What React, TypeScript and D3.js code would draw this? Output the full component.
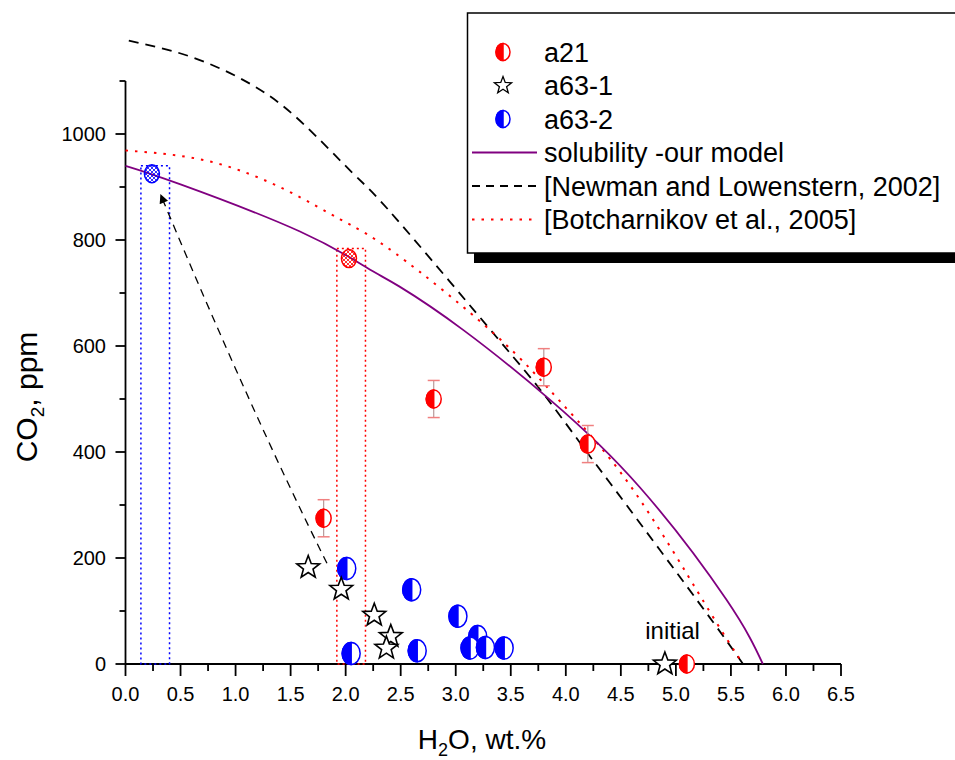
import { useEffect, useRef } from 'react';
import * as d3 from 'd3';

// a21 inclusions (H2O wt.%, CO2 ppm, error)
const a21H2O = [1.8, 2.8, 3.8, 4.2, 5.1];
const a21CO2 = [275, 500, 560, 415, 0];
const a21Err = [35, 35, 35, 35, 0];

// a63-1 inclusions (stars)
const a631H2O = [1.66, 1.96, 2.26, 2.41, 2.37, 4.9];
const a631CO2 = [182, 141, 92, 52, 30, 0];

// a63-2 inclusions (blue half circles)
const a632H2O = [2.01, 2.05, 2.6, 3.02, 3.2, 3.13, 3.27, 3.44, 2.65];
const a632CO2 = [180, 20, 140, 90, 52, 30, 31, 30, 25];

// model points with their H2O range boxes
const calcH2O = [0.24, 2.03];
const calcCO2 = [925, 765];
const calcLo = [0.14, 1.92];
const calcHi = [0.4, 2.18];
const calcTop = [940, 784];
const calcColor = ['#0000ff', '#ff0000'];

// curves
const solH2O = [0, 0.5, 1.585, 2.19, 2.49, 3.07, 3.86, 4.67, 5.46, 5.79];
const solCO2 = [940, 905, 816, 748, 712, 630, 498, 334, 121, 0];
const newH2O = [0.03, 0.59, 1.13, 1.585, 2.07, 2.46, 3.37, 3.83, 4.19, 4.4, 5.19, 5.61];
const newCO2 = [1176, 1146, 1095, 1025, 925, 840, 617, 501, 400, 342, 121, 0];
const botH2O = [0.0, 0.77, 1.46, 1.95, 2.45, 3.36, 3.95, 4.58, 5.26, 5.61];
const botCO2 = [969, 948, 894, 839, 775, 621, 495, 338, 115, 0];

// degassing arrow (tail, bend, tip)
const arrowH2O = [1.83, 1.14, 0.32];
const arrowCO2 = [190, 477, 885];

const legendLabels = ['a21', 'a63-1', 'a63-2', 'solubility -our model', '[Newman and Lowenstern, 2002]', '[Botcharnikov et al., 2005]'];

const FONT = 'Arial, "Liberation Sans", sans-serif';

export default function App() {
    const svgRef = useRef<SVGSVGElement | null>(null);

    useEffect(() => {
        if (!svgRef.current) return;
        const svg = d3.select(svgRef.current);
        svg.selectAll('*').remove();

        const x = d3.scaleLinear().domain([0, 6.5]).range([125.5, 841]);
        const y = d3.scaleLinear().domain([0, 1000]).range([664, 134]);

        // hatch patterns for model points
        const defs = svg.append('defs');
        calcColor.forEach((c, i) => {
            const p = defs.append('pattern')
                .attr('id', `hatch${i}`)
                .attr('patternUnits', 'userSpaceOnUse')
                .attr('width', 4).attr('height', 4);
            p.append('path').attr('d', 'M0,4L4,0M-1,1L1,-1M3,5L5,3').attr('stroke', c).attr('stroke-width', 0.8);
            p.append('path').attr('d', 'M0,0L4,4M-1,3L1,5M3,-1L5,1').attr('stroke', c).attr('stroke-width', 0.8);
        });
        defs.append('marker')
            .attr('id', 'arrowHead')
            .attr('viewBox', '0 0 10 10')
            .attr('refX', 9).attr('refY', 5)
            .attr('markerUnits', 'userSpaceOnUse')
            .attr('markerWidth', 12).attr('markerHeight', 9)
            .attr('orient', 'auto')
            .append('path').attr('d', 'M0,0L10,5L0,10Z').attr('fill', '#000');

        // axes
        const ax = svg.append('g').attr('stroke', '#000').attr('stroke-width', 1.8);
        ax.append('line').attr('x1', x(0)).attr('x2', x(6.5)).attr('y1', y(0)).attr('y2', y(0));
        ax.append('line').attr('x1', x(0)).attr('x2', x(0)).attr('y1', y(0)).attr('y2', y(1100));
        d3.range(0, 6.5001, 0.25).forEach((v, i) => {
            ax.append('line').attr('x1', x(v)).attr('x2', x(v)).attr('y1', y(0)).attr('y2', y(0) + (i % 2 === 0 ? 12 : 7));
        });
        d3.range(0, 1100.1, 100).forEach((v, i) => {
            ax.append('line').attr('y1', y(v)).attr('y2', y(v)).attr('x1', x(0)).attr('x2', x(0) - (i % 2 === 0 ? 10 : 6));
        });
        svg.append('g').selectAll('text').data(d3.range(0, 6.5001, 0.5)).join('text')
            .attr('x', d => x(d)).attr('y', 701)
            .attr('text-anchor', 'middle').attr('font-family', FONT).attr('font-size', 20)
            .text(d => d.toFixed(1));
        svg.append('g').selectAll('text').data(d3.range(0, 1000.1, 200)).join('text')
            .attr('x', 106).attr('y', d => y(d)).attr('dy', '0.35em')
            .attr('text-anchor', 'end').attr('font-family', FONT).attr('font-size', 20)
            .text(d => String(d));

        // axis titles
        const xt = svg.append('text').attr('x', 482).attr('y', 749).attr('text-anchor', 'middle')
            .attr('font-family', FONT).attr('font-size', 28);
        xt.append('tspan').text('H');
        xt.append('tspan').attr('font-size', 18).attr('dy', 7).text('2');
        xt.append('tspan').attr('dy', -7).text('O, wt.%');
        const yt = svg.append('text').attr('transform', 'translate(37,397) rotate(-90)').attr('text-anchor', 'middle')
            .attr('font-family', FONT).attr('font-size', 30);
        yt.append('tspan').text('CO');
        yt.append('tspan').attr('font-size', 19).attr('dy', 7).text('2');
        yt.append('tspan').attr('dy', -7).text(', ppm');

        // model range boxes
        calcH2O.forEach((_, i) => {
            svg.append('rect')
                .attr('x', x(calcLo[i])).attr('y', y(calcTop[i]))
                .attr('width', x(calcHi[i]) - x(calcLo[i])).attr('height', y(0) - y(calcTop[i]))
                .attr('fill', 'none').attr('stroke', calcColor[i]).attr('stroke-width', 1.5)
                .attr('stroke-dasharray', '2,3');
        });

        // curves
        const line = d3.line<[number, number]>().x(d => x(d[0])).y(d => y(d[1])).curve(d3.curveNatural);
        svg.append('path').attr('d', line(newH2O.map((v, i) => [v, newCO2[i]])))
            .attr('fill', 'none').attr('stroke', '#000').attr('stroke-width', 1.8).attr('stroke-dasharray', '10,7');
        svg.append('path').attr('d', line(botH2O.map((v, i) => [v, botCO2[i]])))
            .attr('fill', 'none').attr('stroke', '#ff0000').attr('stroke-width', 2).attr('stroke-dasharray', '2.5,7');
        svg.append('path').attr('d', line(solH2O.map((v, i) => [v, solCO2[i]])))
            .attr('fill', 'none').attr('stroke', '#800080').attr('stroke-width', 1.8);

        // arrow
        svg.append('path')
            .attr('d', `M${x(arrowH2O[0])},${y(arrowCO2[0])}Q${x(arrowH2O[1])},${y(arrowCO2[1])} ${x(arrowH2O[2])},${y(arrowCO2[2])}`)
            .attr('fill', 'none').attr('stroke', '#000').attr('stroke-width', 1.3)
            .attr('stroke-dasharray', '8,6').attr('marker-end', 'url(#arrowHead)');

        // marker helpers
        const halfCircle = (g: d3.Selection<SVGGElement, unknown, null, undefined>, cx: number, cy: number, rx: number, ry: number, c: string) => {
            g.append('ellipse').attr('cx', cx).attr('cy', cy).attr('rx', rx).attr('ry', ry)
                .attr('fill', '#fff').attr('stroke', c).attr('stroke-width', 1.5);
            g.append('path').attr('d', `M${cx},${cy - ry}A${rx},${ry} 0 0 0 ${cx},${cy + ry}Z`)
                .attr('fill', c).attr('stroke', c).attr('stroke-width', 1.5);
        };
        const starPath = (cx: number, cy: number, R: number) => {
            const r = R * 0.42;
            const pts = d3.range(10).map(k => {
                const a = -Math.PI / 2 + k * Math.PI / 5;
                const rr = k % 2 === 0 ? R : r;
                return `${cx + rr * Math.cos(a)},${cy + rr * Math.sin(a)}`;
            });
            return `M${pts.join('L')}Z`;
        };

        // model points
        const mg = svg.append('g');
        calcH2O.forEach((v, i) => {
            mg.append('ellipse').attr('cx', x(v)).attr('cy', y(calcCO2[i])).attr('rx', 7.5).attr('ry', 9)
                .attr('fill', `url(#hatch${i})`).attr('stroke', calcColor[i]).attr('stroke-width', 1.5);
        });

        // a21 error bars and markers
        const rg = svg.append('g');
        a21H2O.forEach((v, i) => {
            if (a21Err[i] > 0) {
                const cx = x(v);
                rg.append('line').attr('x1', cx).attr('x2', cx).attr('y1', y(a21CO2[i] - a21Err[i])).attr('y2', y(a21CO2[i] + a21Err[i]))
                    .attr('stroke', '#b89a9a').attr('stroke-width', 1.2);
                [a21CO2[i] - a21Err[i], a21CO2[i] + a21Err[i]].forEach(e => {
                    rg.append('line').attr('x1', cx - 6).attr('x2', cx + 6).attr('y1', y(e)).attr('y2', y(e))
                        .attr('stroke', '#f08080').attr('stroke-width', 1.5);
                });
            }
            halfCircle(rg, x(v), y(a21CO2[i]), 7.5, 9, '#ff0000');
        });

        // a63-2
        const bg = svg.append('g');
        a632H2O.forEach((v, i) => halfCircle(bg, x(v), y(a632CO2[i]), 9, 11, '#0000ff'));

        // a63-1 stars
        svg.append('g').selectAll('path').data(a631H2O).join('path')
            .attr('d', (d, i) => starPath(x(d), y(a631CO2[i]), 12))
            .attr('fill', '#fff').attr('stroke', '#000').attr('stroke-width', 1.6).attr('stroke-linejoin', 'miter');

        svg.append('text').attr('x', x(4.97)).attr('y', y(0) - 25).attr('text-anchor', 'middle')
            .attr('font-family', FONT).attr('font-size', 24).text('initial');

        // legend
        const lg = svg.append('g');
        lg.append('rect').attr('x', 474).attr('y', 253).attr('width', 490).attr('height', 10).attr('fill', '#000');
        lg.append('rect').attr('x', 467.5).attr('y', 13).attr('width', 500).attr('height', 240)
            .attr('fill', '#fff').attr('stroke', '#000').attr('stroke-width', 1.5);
        const rowY = (k: number) => 52 + k * 33.5;
        halfCircle(lg, 503, rowY(0), 7, 8.5, '#ff0000');
        lg.append('path').attr('d', starPath(503, rowY(1), 9)).attr('fill', '#fff').attr('stroke', '#000').attr('stroke-width', 1.3);
        halfCircle(lg, 503, rowY(2), 7, 8.5, '#0000ff');
        lg.append('line').attr('x1', 472).attr('x2', 537).attr('y1', rowY(3)).attr('y2', rowY(3))
            .attr('stroke', '#800080').attr('stroke-width', 1.8);
        lg.append('line').attr('x1', 472).attr('x2', 537).attr('y1', rowY(4)).attr('y2', rowY(4))
            .attr('stroke', '#000').attr('stroke-width', 1.8).attr('stroke-dasharray', '8,6');
        lg.append('line').attr('x1', 472).attr('x2', 537).attr('y1', rowY(5)).attr('y2', rowY(5))
            .attr('stroke', '#ff0000').attr('stroke-width', 2).attr('stroke-dasharray', '2.5,7');
        lg.selectAll('text.lab').data(legendLabels).join('text')
            .attr('class', 'lab')
            .attr('x', 544).attr('y', (d, k) => rowY(k)).attr('dy', '0.36em')
            .attr('font-family', FONT).attr('font-size', 27)
            .text(d => d);

        return () => { svg.selectAll('*').remove(); };
    }, []);

    return (
        <div style={{ position: 'absolute', left: 0, top: 0, width: 955, height: 760, background: '#fff' }}>
            <svg ref={svgRef} width={955} height={760} style={{ display: 'block' }}></svg>
        </div>
    );
}
